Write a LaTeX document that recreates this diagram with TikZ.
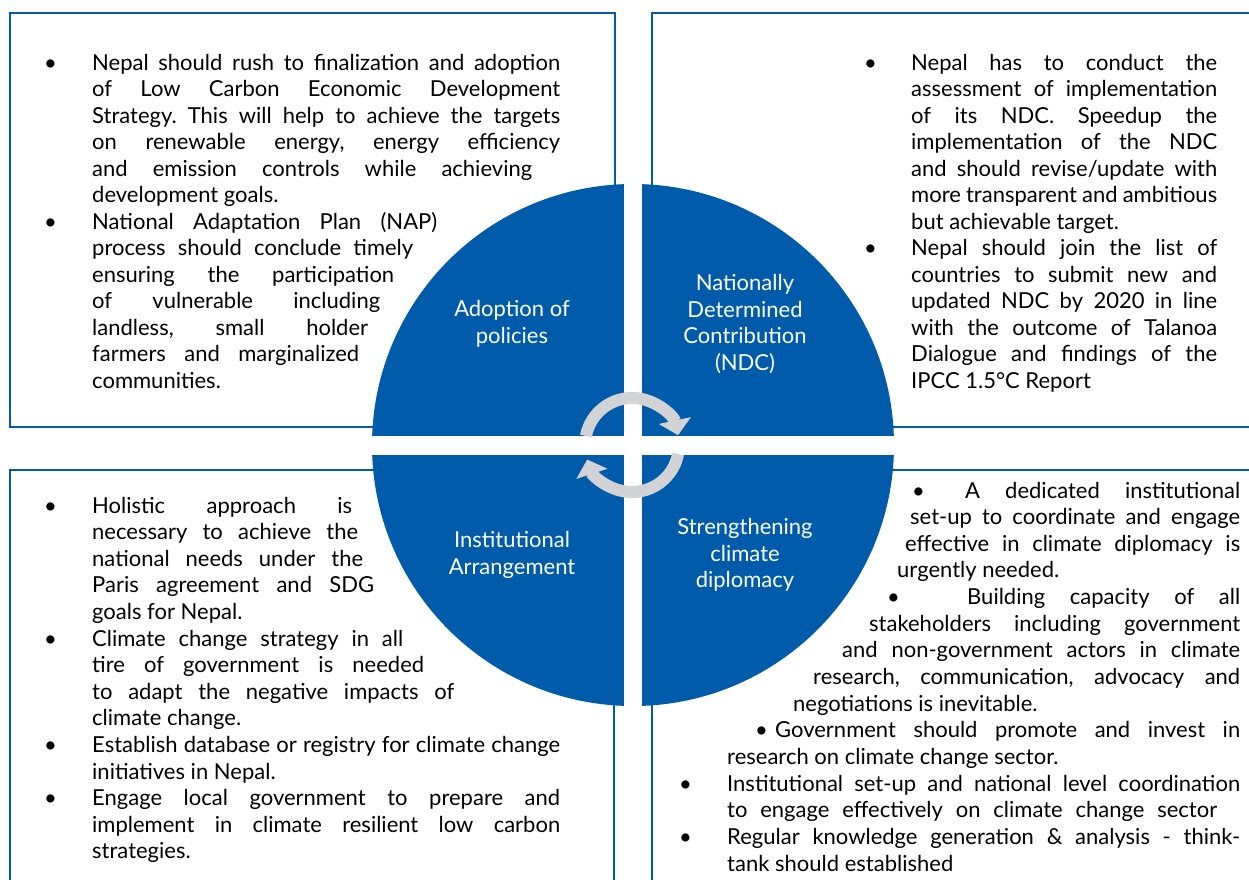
\documentclass[tikz,border=0pt]{standalone}
\usepackage{fontspec}
\setmainfont{Lato}
\usetikzlibrary{arrows.meta}
\definecolor{ndcblue}{HTML}{005BAA}
\definecolor{cyclegrey}{HTML}{D1D3D4}

\begin{document}
\begin{tikzpicture}[x=1pt,y=-1pt,
    frame/.style={draw=ndcblue, line width=2pt},
    cycle/.style={draw=cyclegrey, line width=12pt, -{Triangle[width=32pt,length=15pt]}}]
  \fontsize{22}{26.5}\selectfont\frenchspacing

  \clip (0,0) rectangle (1249,879);
  \fill[white] (0,0) rectangle (1249,879);

  % four frames
  \draw[frame] (10,13)  rectangle (615,427);
  \draw[frame] (652,13) rectangle (1270,427);
  \draw[frame] (10,470) rectangle (614,900);
  \draw[frame] (652,470) rectangle (1270,900);

  % central disc split into quarters
  \node[circle, fill=ndcblue, minimum size=522pt, inner sep=0pt] (hub) at (633,445) {};
  \fill[white] (360,436) rectangle (906,455);
  \fill[white] (624,170) rectangle (642,720);

  % cycle arrows
  \draw[cycle] (585.9,436) arc[start angle=-169, end angle=-12, radius=47];
  \draw[cycle] (678.1,454) arc[start angle=11, end angle=162, radius=47];

  \begin{scope}[every node/.style={align=center, text=white, inner sep=0pt}]
    \node (adopt) at (512,324) {Adoption of\\policies};
    \node (ndc)   at (745,324) {Nationally\\Determined\\Contribution\\(NDC)};
    \node (inst)  at (512,555) {Institutional\\Arrangement};
    \node (dipl)  at (745,555) {Strengthening\\climate\\diplomacy};
  \end{scope}

  \begin{scope}[every node/.style={anchor=base west, inner sep=0pt}]
    % top left
    \node (tlb1) at (44,70)    {\textbullet};
    \node (tl1)  at (92,70)    {\makebox[468pt][s]{Nepal should rush to finalization and adoption}};
    \node (tl2)  at (92,96.5)  {\makebox[468pt][s]{of Low Carbon Economic Development}};
    \node (tl3)  at (92,123)   {\makebox[468pt][s]{Strategy. This will help to achieve the targets}};
    \node (tl4)  at (92,149.5) {\makebox[468pt][s]{on renewable energy, energy efficiency}};
    \node (tl5)  at (92,176)   {\makebox[440pt][s]{and emission controls while achieving}};
    \node (tl6)  at (92,202.5) {development goals.};
    \node (tlb2) at (44,229)   {\textbullet};
    \node (tl7)  at (92,229)   {\makebox[345pt][s]{National Adaptation Plan (NAP)}};
    \node (tl8)  at (92,255.5) {\makebox[321pt][s]{process should conclude timely}};
    \node (tl9)  at (92,282)   {\makebox[302pt][s]{ensuring the participation}};
    \node (tl10) at (92,308.5) {\makebox[288pt][s]{of vulnerable including}};
    \node (tl11) at (92,335)   {\makebox[276pt][s]{landless, small holder}};
    \node (tl12) at (92,361.5) {\makebox[267pt][s]{farmers and marginalized}};
    \node (tl13) at (92,388)   {communities.};

    % top right
    \node (trb1) at (864,70)    {\textbullet};
    \node (tr1)  at (911,70)    {\makebox[306pt][s]{Nepal has to conduct the}};
    \node (tr2)  at (911,96.5)  {\makebox[306pt][s]{assessment of implementation}};
    \node (tr3)  at (911,123)   {\makebox[306pt][s]{of its NDC. Speedup the}};
    \node (tr4)  at (911,149.5) {\makebox[306pt][s]{implementation of the NDC}};
    \node (tr5)  at (911,176)   {\makebox[306pt][s]{and should revise/update with}};
    \node (tr6)  at (911,202.5) {\makebox[306pt][s]{more transparent and ambitious}};
    \node (tr7)  at (911,229)   {but achievable target.};
    \node (trb2) at (864,255.5) {\textbullet};
    \node (tr8)  at (911,255.5) {\makebox[306pt][s]{Nepal should join the list of}};
    \node (tr9)  at (911,282)   {\makebox[306pt][s]{countries to submit new and}};
    \node (tr10) at (911,308.5) {\makebox[306pt][s]{updated NDC by 2020 in line}};
    \node (tr11) at (911,335)   {\makebox[306pt][s]{with the outcome of Talanoa}};
    \node (tr12) at (911,361.5) {\makebox[306pt][s]{Dialogue and findings of the}};
    \node (tr13) at (911,388)   {IPCC 1.5°C Report};

    % bottom left
    \node (blb1) at (44,513)   {\textbullet};
    \node (bl1)  at (92,513)   {\makebox[260pt][s]{Holistic approach is}};
    \node (bl2)  at (92,539.6) {\makebox[266pt][s]{necessary to achieve the}};
    \node (bl3)  at (92,566.2) {\makebox[271pt][s]{national needs under the}};
    \node (bl4)  at (92,592.8) {\makebox[282pt][s]{Paris agreement and SDG}};
    \node (bl5)  at (92,619.4) {goals for Nepal.};
    \node (blb2) at (44,646)   {\textbullet};
    \node (bl6)  at (92,646)   {\makebox[311pt][s]{Climate change strategy in all}};
    \node (bl7)  at (92,672.6) {\makebox[332pt][s]{tire of government is needed}};
    \node (bl8)  at (92,699.2) {\makebox[362pt][s]{to adapt the negative impacts of}};
    \node (bl9)  at (92,725.8) {climate change.};
    \node (blb3) at (44,752.4) {\textbullet};
    \node (bl10) at (92,752.4) {\makebox[468pt][s]{Establish database or registry for climate change}};
    \node (bl11) at (92,779)   {initiatives in Nepal.};
    \node (blb4) at (44,805.6) {\textbullet};
    \node (bl12) at (92,805.6) {\makebox[468pt][s]{Engage local government to prepare and}};
    \node (bl13) at (92,832.2) {\makebox[468pt][s]{implement in climate resilient low carbon}};
    \node (bl14) at (92,858.8) {strategies.};

    % bottom right
    \node (brb1) at (912,498)   {\textbullet};
    \node (br1)  at (965,498)   {\makebox[275pt][s]{A dedicated institutional}};
    \node (br2)  at (910,524.6) {\makebox[330pt][s]{set-up to coordinate and engage}};
    \node (br3)  at (905,551.3) {\makebox[335pt][s]{effective in climate diplomacy is}};
    \node (br4)  at (897,577.9) {urgently needed.};
    \node (brb2) at (887,604.6) {\textbullet};
    \node (br5)  at (967,604.6) {\makebox[273pt][s]{Building capacity of all}};
    \node (br6)  at (869,631.2) {\makebox[371pt][s]{stakeholders including government}};
    \node (br7)  at (842,657.8) {\makebox[398pt][s]{and non-government actors in climate}};
    \node (br8)  at (813,684.5) {\makebox[427pt][s]{research, communication, advocacy and}};
    \node (br9)  at (793,711.1) {negotiations is inevitable.};
    \node (brb3) at (755,737.8) {\textbullet};
    \node (br10) at (775,737.8) {\makebox[465pt][s]{Government should promote and invest in}};
    \node (br11) at (727,764.4) {research on climate change sector.};
    \node (brb4) at (679,791)   {\textbullet};
    \node (br12) at (727,791)   {\makebox[513pt][s]{Institutional set-up and national level coordination}};
    \node (br13) at (727,817.7) {\makebox[490pt][s]{to engage effectively on climate change sector}};
    \node (brb5) at (679,844.3) {\textbullet};
    \node (br14) at (727,844.3) {\makebox[513pt][s]{Regular knowledge generation \& analysis - think-}};
    \node (br15) at (727,871)   {tank should established};
  \end{scope}

\end{tikzpicture}
\end{document}
